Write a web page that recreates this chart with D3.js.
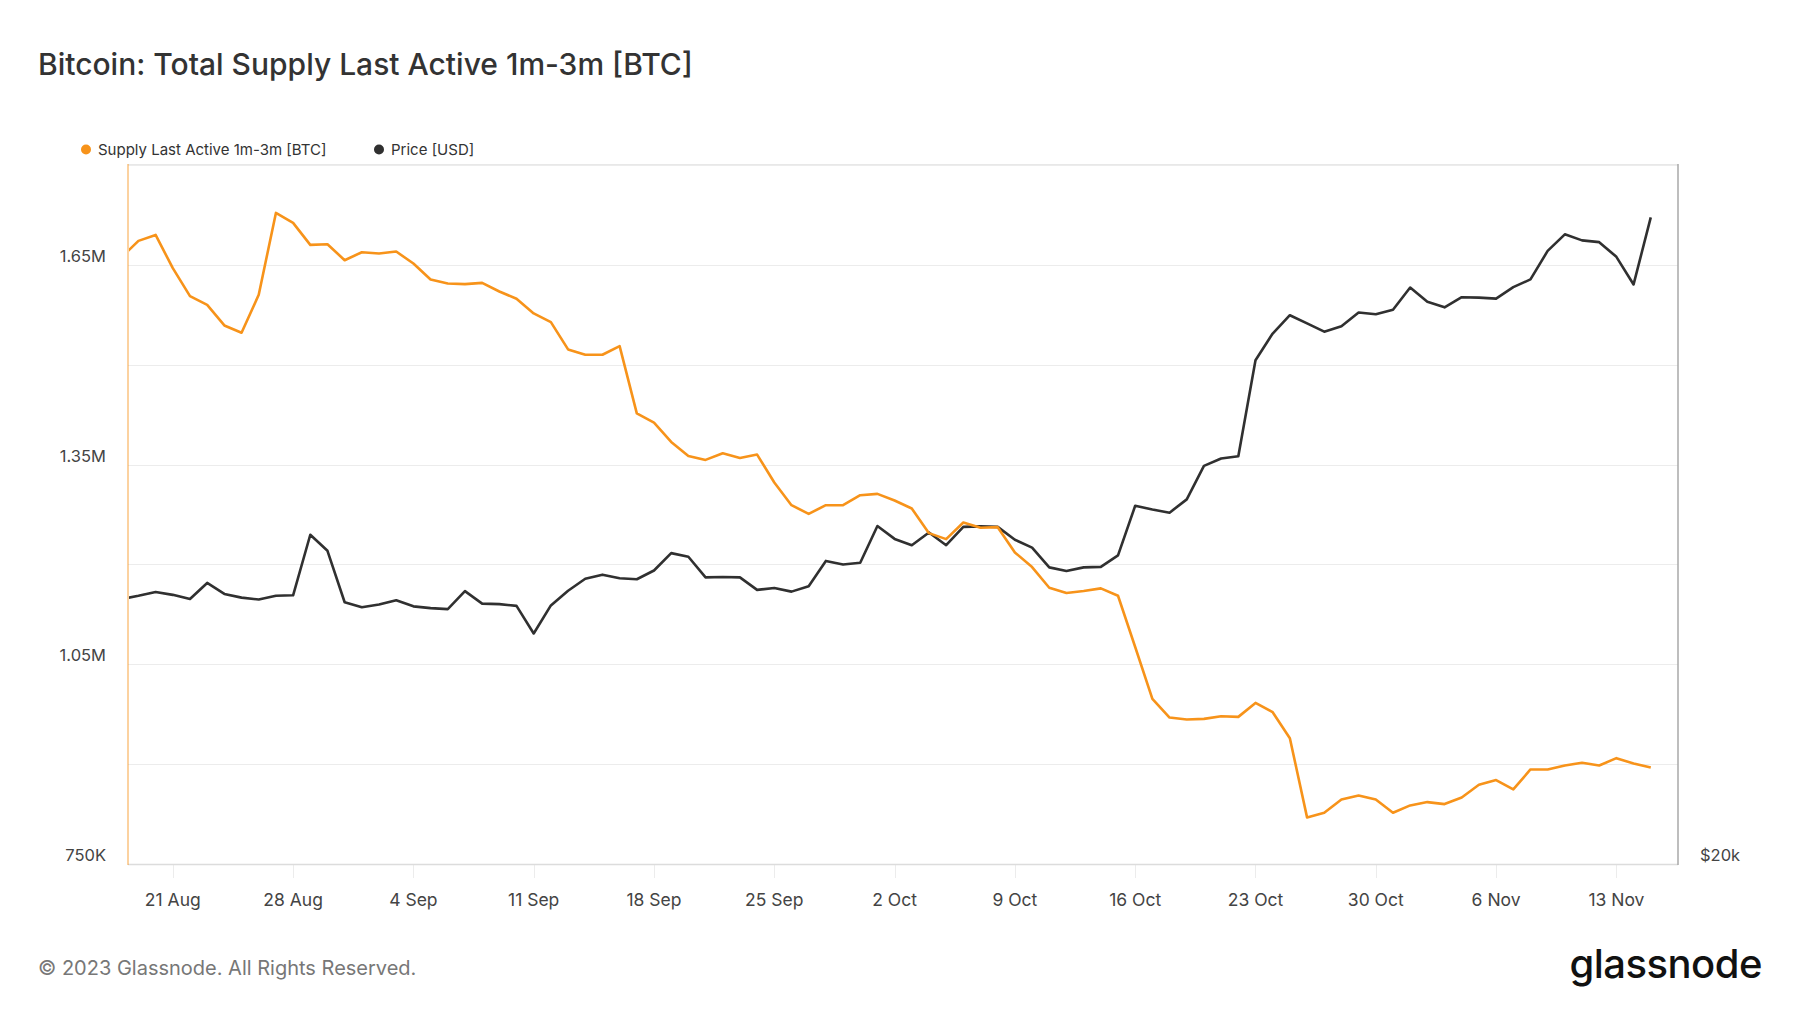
<!DOCTYPE html>
<html>
<head>
<meta charset="utf-8">
<title>supply last active 1m-3m</title>
<script src="https://cdn.jsdelivr.net/npm/d3@7"></script>
<style>
  body { margin: 0; background: #fff; }
  text { font-family: Inter, "Noto Sans", sans-serif; }
</style>
</head>
<body>
<script>
// daily values, 18 Aug 2023 .. 15 Nov 2023 (first point sits just left of the plot and gets clipped)
var supply = [1661,1686,1695,1645,1603,1590,1559,1548,1605,1728,1713,1680,1681,1657,1669,1667,1670,1652,1628,1622,1621,1623,1610,1599,
  1577,1564,1523,1515,1515,1528,1427,1413,1384,1363,1357,1367,1360,1365,1323,1289,1276,1289,1289,1304,1306,1296,
  1284,1247,1238,1263,1255,1256,1218,1196,1165,1157,1160,1164,1153,1076,998,970,967,968,972,971,992,978,939,
  820,827,847,853,847,827,838,843,840,850,869,876,862,892,892,898,902,898,909,901,895];
var price = [26010,26094,26190,26118,26010,26428,26142,26046,25998,26094,26106,27722,27284,25928,25798,25868,25976,25822,25776,25752,26214,25892,25880,25834,
  25136,25846,26226,26538,26646,26550,26526,26756,27222,27124,26574,26586,26574,26248,26296,26202,26344,27012,26914,26964,27964,27608,
  27436,27786,27436,27940,27952,27940,27584,27372,26840,26744,26840,26852,27160,28530,28426,28336,28712,29682,29900,29968,32960,33844,34464,
  34184,33906,34092,34558,34496,34654,35422,34924,34734,35086,35070,35036,35436,35710,36734,37342,37120,37054,36518,35532,37976];
var dates = d3.utcDay.range(new Date(Date.UTC(2023, 7, 18)), new Date(Date.UTC(2023, 10, 16)));
var supplyGrid = [750, 900, 1050, 1200, 1350, 1500, 1650, 1800];
var supplyLabels = [750, 1050, 1350, 1650];
var priceLabels = [20000];

var width = 1800, height = 1013;
var pl = 128, pr = 1678, pt = 165, pb = 864;
var orange = "#f7931a", dark = "#303030";

var svg = d3.select("body").append("svg").attr("width", width).attr("height", height);

var x = d3.scaleUtc()
  .domain([new Date(Date.UTC(2023, 7, 18, 9, 26)), new Date(Date.UTC(2023, 10, 16, 14, 2))])
  .range([pl, pr]);
var y = d3.scaleLinear().domain([750, 1800]).range([pb, pt]);
var yp = d3.scaleLog().domain([20000, 40000]).range([pb, pt]);

svg.append("text").attr("x", 38).attr("y", 75)
  .text("Bitcoin: Total Supply Last Active 1m-3m [BTC]")
  .style("font-size", "30px").style("font-weight", 500).attr("fill", "#333");

// legend
var legend = [{name: "Supply Last Active 1m-3m [BTC]", color: orange, x: 86}, {name: "Price [USD]", color: dark, x: 379}];
legend.forEach(function(d) {
  svg.append("circle").attr("cx", d.x).attr("cy", 149.5).attr("r", 5).attr("fill", d.color);
  svg.append("text").attr("x", d.x + 12).attr("y", 155).text(d.name)
    .style("font-size", "15px").attr("fill", "#333");
});

// grid
svg.selectAll(".grid").data(supplyGrid).enter().append("line")
  .attr("x1", pl).attr("x2", pr)
  .attr("y1", function(d){ return Math.round(y(d)) + 0.5; }).attr("y2", function(d){ return Math.round(y(d)) + 0.5; })
  .attr("stroke", "#ececec").attr("stroke-width", 1);

// x ticks
var ticks = x.ticks(d3.utcMonday.every(1));
svg.selectAll(".xtick").data(ticks).enter().append("line")
  .attr("x1", function(d){ return Math.round(x(d)) + 0.5; }).attr("x2", function(d){ return Math.round(x(d)) + 0.5; })
  .attr("y1", pb).attr("y2", pb + 14)
  .attr("stroke", "#ececec");
svg.selectAll(".xlab").data(ticks).enter().append("text")
  .attr("x", function(d){ return x(d); }).attr("y", 906)
  .attr("text-anchor", "middle")
  .text(d3.utcFormat("%-d %b"))
  .style("font-size", "17.5px").attr("fill", "#444");

// y labels
var fmt = function(v){ return v >= 1000 ? (v / 1000).toFixed(2) + "M" : v + "K"; };
svg.selectAll(".ylab").data(supplyLabels).enter().append("text")
  .attr("x", 106).attr("y", function(d){ return y(d) - 3; })
  .attr("text-anchor", "end").text(fmt)
  .style("font-size", "16.5px").attr("fill", "#444");
svg.selectAll(".plab").data(priceLabels).enter().append("text")
  .attr("x", 1700).attr("y", function(d){ return yp(d) - 3; })
  .text(function(d){ return "$" + d / 1000 + "k"; })
  .style("font-size", "16.5px").attr("fill", "#444");

// frame
svg.append("line").attr("x1", pl).attr("x2", pr).attr("y1", pt - 0.5).attr("y2", pt - 0.5).attr("stroke", "#e8e8e8");
svg.append("line").attr("x1", pl).attr("x2", pr).attr("y1", pb + 0.5).attr("y2", pb + 0.5).attr("stroke", "#dcdcdc").attr("stroke-width", 1.5);
svg.append("line").attr("x1", pl).attr("x2", pl).attr("y1", pt - 1).attr("y2", pb + 1).attr("stroke", orange).attr("stroke-opacity", 0.55).attr("stroke-width", 1.5);
svg.append("line").attr("x1", pr).attr("x2", pr).attr("y1", pt - 1).attr("y2", pb + 1).attr("stroke", "#a8a8a8").attr("stroke-width", 1.5);

svg.append("clipPath").attr("id", "plot").append("rect")
  .attr("x", pl + 1).attr("y", pt - 5).attr("width", pr - pl - 1).attr("height", pb - pt + 10);

var g = svg.append("g").attr("clip-path", "url(#plot)");
g.append("path").datum(price)
  .attr("d", d3.line().x(function(d, i){ return x(dates[i]); }).y(function(d){ return yp(d); }))
  .attr("fill", "none").attr("stroke", dark).attr("stroke-width", 2.6).attr("stroke-linejoin", "round");
g.append("path").datum(supply)
  .attr("d", d3.line().x(function(d, i){ return x(dates[i]); }).y(function(d){ return y(d); }))
  .attr("fill", "none").attr("stroke", orange).attr("stroke-width", 2.6).attr("stroke-linejoin", "round");

// footer
svg.append("text").attr("x", 38).attr("y", 975)
  .text("© 2023 Glassnode. All Rights Reserved.")
  .style("font-size", "20px").attr("fill", "#777");
svg.append("text").attr("x", 1762).attr("y", 978).attr("text-anchor", "end")
  .text("glassnode")
  .style("font-size", "40px").style("font-weight", 500).style("letter-spacing", "-0.5px").attr("fill", "#111");
</script>
</body>
</html>
